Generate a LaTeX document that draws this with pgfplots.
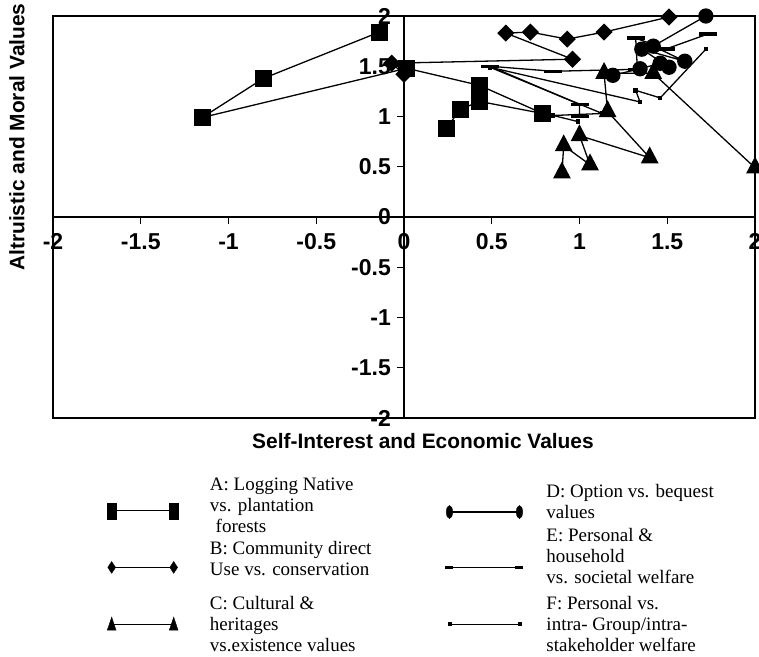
\documentclass[border=0pt]{standalone}
\usepackage{pgfplots}
\pgfplotsset{compat=1.18}
\usepackage{fontspec}
\setmainfont{Liberation Serif}
\setsansfont{Liberation Sans}
\usetikzlibrary{calc}
% #1 = extra raise of the text block
\newcommand{\legthree}[4]{\raisebox{\dimexpr15.8pt+#1\relax}[32pt][32pt]{\begin{tabular}[t]{@{}l@{}}#2\\#3\\#4\end{tabular}}}
\newcommand{\legtwo}[3]{\raisebox{\dimexpr5.15pt+#1\relax}[32pt][32pt]{\begin{tabular}[t]{@{}l@{}}#2\\#3\end{tabular}}}
\begin{document}
\begin{tikzpicture}
\begin{axis}[
  name=ax,
  scale only axis, width=702pt, height=402pt,
  xmin=-2, xmax=2, ymin=-2, ymax=2,
  axis lines=middle,
  axis line style={black, line width=1.2pt, -},
  hide obscured x ticks=false, hide obscured y ticks=false,
  xtick={-2,-1.5,-1,-0.5,0,0.5,1,1.5,2},
  ytick={-2,-1.5,-1,-0.5,0,0.5,1,1.5,2},
  xticklabels={-2,-1.5,-1,-0.5,0,0.5,1,1.5,2},
  yticklabels={-2,-1.5,-1,-0.5,0,0.5,1,1.5,2},
  tick align=outside, major tick length=7pt,
  tick style={black, line width=1.2pt},
  ticklabel style={font=\sffamily\bfseries\fontsize{23}{23}\selectfont, inner sep=0pt},
  xticklabel style={yshift=-9pt},
  yticklabel style={xshift=-6pt},
  xlabel={Self-Interest and Economic Values},
  ylabel={Altruistic and Moral Values},
  xlabel style={at={(rel axis cs:0.527,0)}, anchor=north, yshift=-15pt, inner sep=0pt,
    font=\sffamily\bfseries\fontsize{20.9}{20.9}\selectfont},
  ylabel style={at={(rel axis cs:-0.0513,0.699)}, anchor=center, rotate=90, inner sep=0pt,
    font=\sffamily\bfseries\fontsize{20.9}{20.9}\selectfont},
  clip=false,
  after end axis/.code={\draw[black,line width=1.2pt] (rel axis cs:0,0) rectangle (rel axis cs:1,1);},
  legend columns=2,
  legend cell align=left,
  legend style={at={(rel axis cs:0.0769,-0.151)}, anchor=north west, draw=none, fill=none,
    inner sep=0pt, outer sep=0pt, row sep=-7.3pt,
    nodes={inner sep=0pt, text depth=, font=\fontsize{19}{21.3}\selectfont}},
]
% A: squares
\addplot[forget plot, black, line width=1.3pt, mark=square*, mark size=7.8pt]
 coordinates {(0.24,0.88) (0.32,1.07) (0.43,1.15) (0.79,1.03) (0.43,1.31) (0.015,1.48) (-1.15,0.99) (-0.80,1.38) (-0.14,1.84)};
% B: diamonds
\addplot[forget plot, black, line width=1.3pt, mark=square*, mark size=5.4pt, mark options={rotate=45}]
 coordinates {(1.51,1.99) (1.14,1.84) (0.93,1.77) (0.72,1.84) (0.58,1.83) (0.96,1.57) (-0.07,1.53) (0,1.42)};
% C: triangles
\addplot[forget plot, black, line width=1.3pt, mark=triangle*, mark size=9pt, mark options={yscale=1.1}]
 coordinates {(0.90,0.44) (0.91,0.71) (1.06,0.52) (1.00,0.81) (1.40,0.59) (1.16,1.05) (1.14,1.43) (1.42,1.43) (2.0,0.49)};
% D: circles
\addplot[forget plot, black, line width=1.3pt, mark=*, mark size=7pt]
 coordinates {(1.72,2.0) (1.42,1.70) (1.60,1.55) (1.355,1.67) (1.51,1.49) (1.46,1.53) (1.345,1.475) (1.19,1.41)};
% E: dashes
\addplot[forget plot, black, line width=1.3pt, mark=-, mark size=9pt, mark options={line width=3.5pt}]
 coordinates {(1.0,1.0) (1.0,1.12) (0.49,1.50) (0.85,1.45) (1.33,1.47) (1.32,1.78) (1.49,1.67) (1.73,1.82)};
% F: small marks
\addplot[forget plot, black, line width=1.3pt, mark=square*, mark size=1.6pt]
 coordinates {(1.72,1.67) (1.46,1.185) (1.32,1.26) (1.345,1.145) (0.49,1.49) (1.13,1.03) (0.85,1.01) (0.99,0.95)};

% legend (order A, D, B, E, C, F)
\addlegendimage{legend image code/.code={
  \path[draw=none,fill=none] (-4.7pt,0pt) -- (98.3pt,0pt);
  \draw[black,line width=1.2pt] (0pt,0pt) -- (62pt,0pt);
  \fill[black] (-4.35pt,-8pt) rectangle (4.35pt,8pt);
  \fill[black] (57.65pt,-8pt) rectangle (66.35pt,8pt);}}
\addlegendentry{\makebox[234pt][l]{\legthree{4.7pt}{A: Logging Native}{vs. plantation}{\hspace{0.3em}forests}}}
\addlegendimage{legend image code/.code={
  \path[draw=none,fill=none] (-5pt,0pt) -- (97pt,0pt);
  \begin{scope}[yshift=-1.3pt]
  \draw[black,line width=1.2pt] (0pt,0pt) -- (70pt,0pt);
  \fill[black] (0pt,0pt) ellipse [x radius=3.2pt, y radius=6.5pt];
  \fill[black] (70pt,0pt) ellipse [x radius=3.2pt, y radius=6.5pt];
  \end{scope}}}
\addlegendentry{\legtwo{8.2pt}{D: Option vs. bequest}{values}}
\addlegendimage{legend image code/.code={
  \path[draw=none,fill=none] (-4.7pt,0pt) -- (98.3pt,0pt);
  \draw[black,line width=1.2pt] (0pt,0pt) -- (62pt,0pt);
  \fill[black] (0pt,5.9pt) -- (3.9pt,0pt) -- (0pt,-5.9pt) -- (-3.9pt,0pt) -- cycle;
  \fill[black] (62pt,5.9pt) -- (65.9pt,0pt) -- (62pt,-5.9pt) -- (58.1pt,0pt) -- cycle;}}
\addlegendentry{\makebox[234pt][l]{\legtwo{7.9pt}{B: Community direct}{Use vs. conservation}}}
\addlegendimage{legend image code/.code={
  \path[draw=none,fill=none] (-5pt,0pt) -- (97pt,0pt);
  \draw[black,line width=1.2pt] (0pt,0pt) -- (70pt,0pt);
  \draw[black,line width=3pt] (-4pt,0pt) -- (4pt,0pt);
  \draw[black,line width=3pt] (66pt,0pt) -- (74pt,0pt);}}
\addlegendentry{\legthree{10.4pt}{E: Personal \&}{household}{vs. societal welfare}}
\addlegendimage{legend image code/.code={
  \path[draw=none,fill=none] (-4.7pt,0pt) -- (98.3pt,0pt);
  \draw[black,line width=1.2pt] (0pt,0pt) -- (62pt,0pt);
  \fill[black] (-4.35pt,-6pt) -- (4.35pt,-6pt) -- (0pt,7pt) -- cycle;
  \fill[black] (57.65pt,-6pt) -- (66.35pt,-6pt) -- (62pt,7pt) -- cycle;}}
\addlegendentry{\makebox[234pt][l]{\legthree{-0.9pt}{C: Cultural \&}{heritages}{vs.existence values}}}
\addlegendimage{legend image code/.code={
  \path[draw=none,fill=none] (-5pt,0pt) -- (97pt,0pt);
  \draw[black,line width=1.2pt] (0pt,0pt) -- (70pt,0pt);
  \fill[black] (-1.5pt,-1.5pt) rectangle (1.5pt,1.5pt);
  \fill[black] (68.5pt,-1.5pt) rectangle (71.5pt,1.5pt);}}
\addlegendentry{\legthree{-0.9pt}{F: Personal vs.}{intra- Group/intra-}{stakeholder welfare}}
\end{axis}
\pgfresetboundingbox
\path ($(ax.south west)+(-53pt,-238pt)$) rectangle ($(ax.north east)+(4pt,16pt)$);
\end{tikzpicture}
\end{document}
